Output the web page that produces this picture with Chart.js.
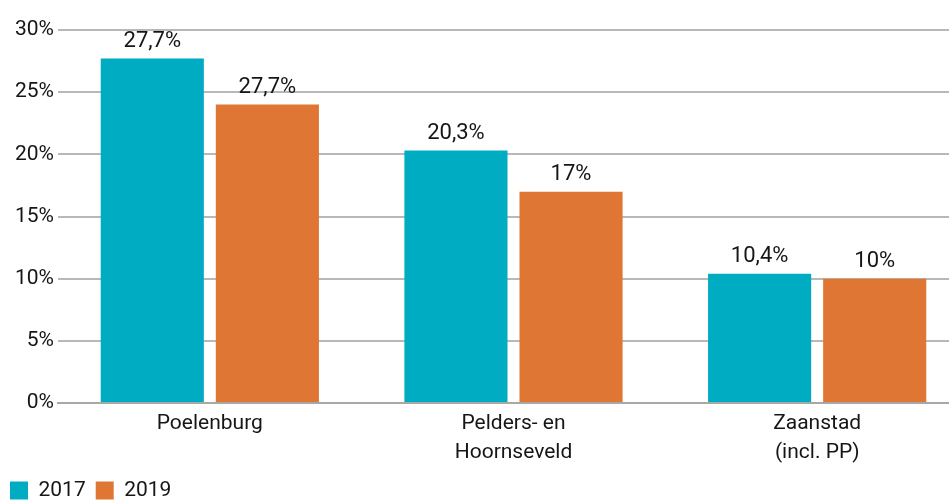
<!DOCTYPE html>
<html>
<head>
<meta charset="utf-8">
<script src="https://cdn.jsdelivr.net/npm/chart.js@4.4.1/dist/chart.umd.min.js"></script>
<style>
    html, body { margin: 0; padding: 0; background: #fff; overflow: hidden; }
    #wrap { position: relative; width: 969px; height: 500px; }
</style>
</head>
<body>
<div id="wrap"><canvas id="barChart"></canvas></div>
<script>
// Chart data
const categories = [['Poelenburg'], ['Pelders- en', 'Hoornseveld'], ['Zaanstad', '(incl. PP)']];
const seriesNames = ['2017', '2019'];
const values2017 = [27.7, 20.3, 10.4];
const values2019 = [24, 17, 10];
const labels2017 = ['27,7%', '20,3%', '10,4%'];
const labels2019 = ['27,7%', '17%', '10%'];
const yTickStep = 5;
const yMax = 30;

const FONT = "Roboto, 'Noto Sans', sans-serif";
const TEXT = '#161616';

// value labels above each bar
const barLabels = {
    id: 'barLabels',
    afterDatasetsDraw(chart) {
        const ctx = chart.ctx;
        const texts = [labels2017, labels2019];
        ctx.save();
        ctx.font = '22px ' + FONT;
        ctx.fillStyle = TEXT;
        ctx.textAlign = 'center';
        ctx.textBaseline = 'bottom';
        chart.data.datasets.forEach((ds, i) => {
            chart.getDatasetMeta(i).data.forEach((bar, j) => {
                ctx.fillText(texts[i][j], bar.x, bar.y - 6);
            });
        });
        ctx.restore();
    }
};

new Chart(document.getElementById('barChart'), {
    type: 'bar',
    data: {
        labels: categories,
        datasets: [
            {
                label: seriesNames[0],
                data: values2017,
                backgroundColor: '#00acc1',
            },
            {
                label: seriesNames[1],
                data: values2019,
                backgroundColor: '#e07633',
            },
        ],
    },
    options: {
        responsive: true,
        maintainAspectRatio: false,
        animation: false,
        categoryPercentage: 0.758,
        barPercentage: 0.896,
        layout: { padding: { top: 30, left: 0, right: 0, bottom: -11 } },
        plugins: {
            legend: {
                position: 'bottom',
                align: 'start',
                labels: {
                    boxWidth: 18,
                    boxHeight: 18,
                    padding: 10,
                    color: TEXT,
                    font: { family: FONT, size: 21 },
                },
            },
            tooltip: { enabled: false },
        },
        scales: {
            y: {
                min: 0,
                max: yMax,
                ticks: {
                    stepSize: yTickStep,
                    callback: (v) => v + '%',
                    color: TEXT,
                    padding: 4,
                    font: { family: FONT, size: 21 },
                },
                grid: { color: '#b8b8b8', lineWidth: 2, drawTicks: false },
                border: { display: false },
                afterFit: (scale) => { scale.width = 58; },
            },
            x: {
                ticks: {
                    color: TEXT,
                    padding: 6,
                    font: { family: FONT, size: 21, lineHeight: 1.38 },
                },
                grid: { display: false, drawTicks: false },
                border: { color: '#a8a8a8', width: 2 },
                afterFit: (scale) => { scale.height = 67; },
            },
        },
    },
    plugins: [barLabels],
});
</script>
</body>
</html>
